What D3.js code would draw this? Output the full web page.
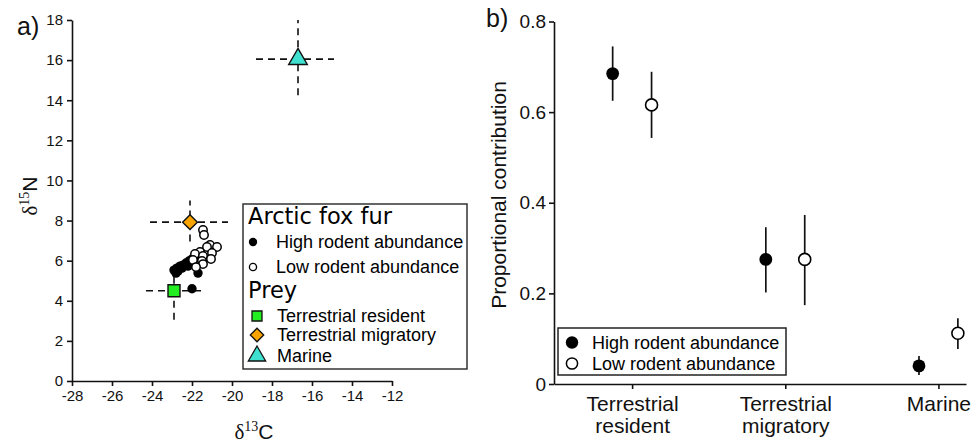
<!DOCTYPE html>
<html lang="en">
<head>
<meta charset="utf-8">
<title>Arctic fox isotopes</title>
<script src="https://cdn.jsdelivr.net/npm/d3@7"></script>
<style>
  body { margin: 0; background: #fff; }
  svg { display: block; font-family: "Liberation Sans", Arial, sans-serif; }
  .axis path, .axis line { stroke: #111; stroke-width: 1.6px; }
  .axis text { fill: #111; }
</style>
</head>
<body>
<svg id="chart" width="973" height="444"></svg>
<script>
// ---- panel a data: fox fur isotopes ----
var furHighC = [-22.9, -22.75, -22.6, -22.45, -22.3, -22.15, -22.0, -21.85, -22.7, -22.5, -22.8, -22.0, -21.7, -22.2];
var furHighN = [5.53, 5.63, 5.73, 5.78, 5.88, 5.98, 6.08, 6.13, 5.48, 5.63, 5.38, 4.6, 5.38, 5.73];
var furLowC = [-21.45, -21.4, -21.1, -20.75, -21.25, -21.6, -21.85, -21.45, -21.0, -21.5, -21.95, -21.45, -21.8, -21.05];
var furLowN = [7.53, 7.28, 6.78, 6.68, 6.68, 6.43, 6.33, 6.23, 6.38, 5.98, 6.03, 5.83, 5.68, 6.08];

// prey sources: mean and range
var preyNames = ["Terrestrial resident", "Terrestrial migratory", "Marine"];
var preyC = [-22.9, -22.1, -16.7];
var preyN = [4.5, 7.92, 16.05];
var preyCLo = [-24.3, -24.1, -18.8];
var preyCHi = [-21.4, -20.2, -14.9];
var preyNLo = [3.05, 6.95, 14.25];
var preyNHi = [5.95, 9.0, 18.0];

var xTicksA = [-28, -26, -24, -22, -20, -18, -16, -14, -12];
var yTicksA = [0, 2, 4, 6, 8, 10, 12, 14, 16, 18];

// ---- panel b data: proportional contribution ----
var categories = ["Terrestrial\nresident", "Terrestrial\nmigratory", "Marine"];
var highMean = [0.685, 0.275, 0.040];
var highLo = [0.625, 0.202, 0.020];
var highHi = [0.745, 0.346, 0.062];
var lowMean = [0.616, 0.275, 0.112];
var lowLo = [0.543, 0.174, 0.077];
var lowHi = [0.689, 0.373, 0.145];
var yTicksB = [0, 0.2, 0.4, 0.6, 0.8];

var preyFill = ["#22ee22", "#f7a400", "#40e0d0"];
var preyShape = [d3.symbolSquare, d3.symbolSquare, d3.symbolTriangle];
var preyRot = [0, 45, 0];

var svg = d3.select("#chart");

// ================= panel a =================
var xa = d3.scaleLinear().domain([-28, -12]).range([72, 392]);
var ya = d3.scaleLinear().domain([0, 18]).range([381, 20]);

var ga = svg.append("g");

ga.append("g")
  .attr("class", "axis")
  .attr("transform", "translate(0,381)")
  .call(d3.axisBottom(xa).tickValues(xTicksA).tickSize(5).tickPadding(4).tickSizeOuter(0)
    .tickFormat(function (d) { return String(d); }))
  .selectAll("text").style("font-size", "15px");

ga.append("g")
  .attr("class", "axis")
  .attr("transform", "translate(72,0)")
  .call(d3.axisLeft(ya).tickValues(yTicksA).tickSize(5).tickPadding(4).tickSizeOuter(0)
    .tickFormat(function (d) { return String(d); }))
  .selectAll("text").style("font-size", "15px");

// axis titles
var xt = ga.append("text")
  .attr("x", 254).attr("y", 439)
  .attr("text-anchor", "middle")
  .style("font-size", "21px").attr("fill", "#111");
xt.append("tspan").style("font-family", "Liberation Serif").text("δ");
xt.append("tspan").style("font-family", "Liberation Serif").style("font-size", "14px").attr("dy", -8).text("13");
xt.append("tspan").attr("dy", 8).text("C");

var yt = ga.append("text")
  .attr("transform", "translate(37,196) rotate(-90)")
  .attr("text-anchor", "middle")
  .style("font-size", "21px").attr("fill", "#111");
yt.append("tspan").style("font-family", "Liberation Serif").text("δ");
yt.append("tspan").style("font-family", "Liberation Serif").style("font-size", "14px").attr("dy", -8).text("15");
yt.append("tspan").attr("dy", 8).text("N");

ga.append("text").attr("x", 17).attr("y", 35).style("font-size", "25px").attr("fill", "#111").text("a)");

// prey ranges (dashed)
preyNames.forEach(function (p, i) {
  ga.append("line")
    .attr("x1", xa(preyCLo[i])).attr("x2", xa(preyCHi[i]))
    .attr("y1", ya(preyN[i])).attr("y2", ya(preyN[i]))
    .attr("stroke", "#111").attr("stroke-width", 1.6).attr("stroke-dasharray", "7,5");
  ga.append("line")
    .attr("x1", xa(preyC[i])).attr("x2", xa(preyC[i]))
    .attr("y1", ya(preyNLo[i])).attr("y2", ya(preyNHi[i]))
    .attr("stroke", "#111").attr("stroke-width", 1.6).attr("stroke-dasharray", "7,5");
});

// fox fur points
ga.selectAll(".hi")
  .data(d3.range(furHighC.length))
  .enter().append("circle")
  .attr("cx", function (i) { return xa(furHighC[i]); })
  .attr("cy", function (i) { return ya(furHighN[i]); })
  .attr("r", 4.7)
  .attr("fill", "#000");

ga.selectAll(".lo")
  .data(d3.range(furLowC.length))
  .enter().append("circle")
  .attr("cx", function (i) { return xa(furLowC[i]); })
  .attr("cy", function (i) { return ya(furLowN[i]); })
  .attr("r", 4.2)
  .attr("fill", "#fff")
  .attr("stroke", "#000").attr("stroke-width", 1.5);

// prey markers
var preySize = [144, 110, 150];
preyNames.forEach(function (p, i) {
  ga.append("path")
    .attr("d", d3.symbol().type(preyShape[i]).size(preySize[i])())
    .attr("transform", "translate(" + xa(preyC[i]) + "," + ya(preyN[i]) + ") rotate(" + preyRot[i] + ")")
    .attr("fill", preyFill[i])
    .attr("stroke", "#111").attr("stroke-width", 1.4);
});

// legend a
var la = ga.append("g");
la.append("rect").attr("x", 243).attr("y", 204).attr("width", 224).attr("height", 165)
  .attr("fill", "#fff").attr("stroke", "#333").attr("stroke-width", 1.5);
la.append("text").attr("x", 248).attr("y", 224)
  .style("font-family", "DejaVu Sans").style("font-size", "22.5px").text("Arctic fox fur");
la.append("circle").attr("cx", 253).attr("cy", 242).attr("r", 4.2).attr("fill", "#000");
la.append("text").attr("x", 276).attr("y", 248).style("font-size", "18px").text("High rodent abundance");
la.append("circle").attr("cx", 253).attr("cy", 267).attr("r", 3.6).attr("fill", "#fff").attr("stroke", "#000").attr("stroke-width", 1.3);
la.append("text").attr("x", 276).attr("y", 273).style("font-size", "18px").text("Low rodent abundance");
la.append("text").attr("x", 248).attr("y", 298)
  .style("font-family", "DejaVu Sans").style("font-size", "22.5px").text("Prey");
var legY = [316, 335, 356];
var legSize = [100, 90, 130];
preyNames.forEach(function (p, i) {
  la.append("path")
    .attr("d", d3.symbol().type(preyShape[i]).size(legSize[i])())
    .attr("transform", "translate(257," + legY[i] + ") rotate(" + preyRot[i] + ")")
    .attr("fill", preyFill[i]).attr("stroke", "#111").attr("stroke-width", 1.3);
  la.append("text").attr("x", 277).attr("y", legY[i] + 6).style("font-size", "18px").text(p);
});

// ================= panel b =================
var xb = d3.scaleLinear().domain([0.49, 3.18]).range([554, 966]);
var yb = d3.scaleLinear().domain([0, 0.8]).range([384, 21.5]);
var off = 0.127;

var gb = svg.append("g");

var xAxisB = gb.append("g")
  .attr("class", "axis")
  .attr("transform", "translate(0,384)")
  .call(d3.axisBottom(xb).tickValues([1, 2, 3]).tickSize(5).tickPadding(7).tickSizeOuter(0)
    .tickFormat(function (d) { return categories[d - 1]; }));
xAxisB.selectAll(".tick text")
  .style("font-size", "21px")
  .each(function (d) {
    var t = d3.select(this), lines = categories[d - 1].split("\n");
    t.text(null);
    lines.forEach(function (s, k) {
      t.append("tspan").attr("x", 0).attr("dy", k == 0 ? "0.71em" : "1.05em").text(s);
    });
  });

gb.append("g")
  .attr("class", "axis")
  .attr("transform", "translate(554,0)")
  .call(d3.axisLeft(yb).tickValues(yTicksB).tickSize(5).tickPadding(3).tickSizeOuter(0)
    .tickFormat(function (d) { return d === 0 ? "0" : d3.format(".1f")(d); }))
  .selectAll("text").style("font-size", "19px");

gb.append("text")
  .attr("transform", "translate(506,195) rotate(-90)")
  .attr("text-anchor", "middle")
  .style("font-size", "21px").attr("fill", "#111")
  .text("Proportional contribution");

gb.append("text").attr("x", 486).attr("y", 27).style("font-size", "25px").attr("fill", "#111").text("b)");

// error bars + points
categories.forEach(function (c, i) {
  var xh = xb(i + 1 - off), xl = xb(i + 1 + off);
  gb.append("line").attr("x1", xh).attr("x2", xh)
    .attr("y1", yb(highLo[i])).attr("y2", yb(highHi[i]))
    .attr("stroke", "#111").attr("stroke-width", 1.7);
  gb.append("line").attr("x1", xl).attr("x2", xl)
    .attr("y1", yb(lowLo[i])).attr("y2", yb(lowHi[i]))
    .attr("stroke", "#111").attr("stroke-width", 1.7);
  gb.append("circle").attr("cx", xh).attr("cy", yb(highMean[i])).attr("r", 6.4).attr("fill", "#000");
  gb.append("circle").attr("cx", xl).attr("cy", yb(lowMean[i])).attr("r", 6)
    .attr("fill", "#fff").attr("stroke", "#000").attr("stroke-width", 1.6);
});

// legend b
var lb = gb.append("g");
lb.append("rect").attr("x", 558).attr("y", 328).attr("width", 228).attr("height", 47)
  .attr("fill", "#fff").attr("stroke", "#222").attr("stroke-width", 1.5);
lb.append("circle").attr("cx", 572).attr("cy", 342.5).attr("r", 6.2).attr("fill", "#000");
lb.append("text").attr("x", 592).attr("y", 348.5).style("font-size", "18px").text("High rodent abundance");
lb.append("circle").attr("cx", 572).attr("cy", 363.5).attr("r", 5.6).attr("fill", "#fff").attr("stroke", "#000").attr("stroke-width", 1.5);
lb.append("text").attr("x", 592).attr("y", 369.5).style("font-size", "18px").text("Low rodent abundance");
</script>
</body>
</html>
